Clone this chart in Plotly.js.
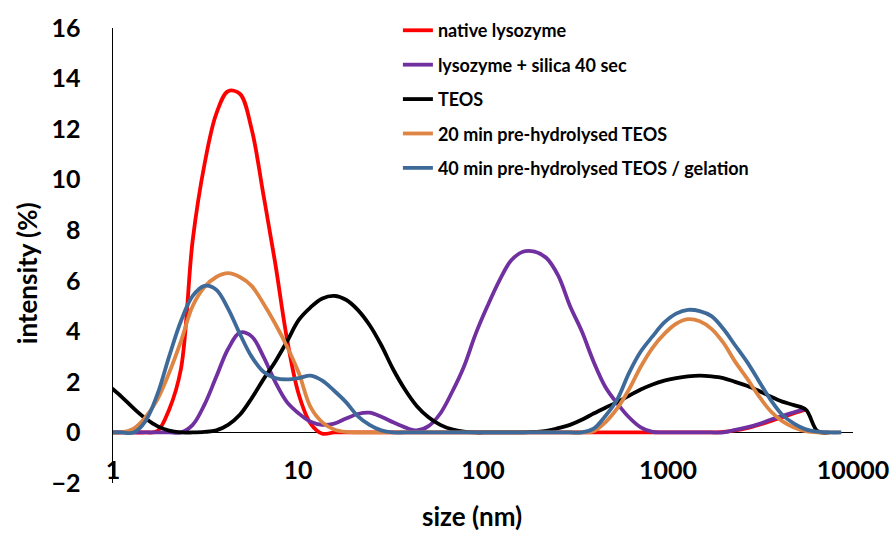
<!DOCTYPE html>
<html>
<head>
<meta charset="utf-8">
<script src="https://cdn.plot.ly/plotly-3.0.1.min.js"></script>
<style>html,body{margin:0;padding:0;background:#fff;}#chart{width:894px;height:534px;}</style>
</head>
<body>
<div id="chart"></div>
<script>
// Size bins (nm)
var sizes = [0.9649, 1.117, 1.294, 1.499, 1.736, 2.010, 2.328, 2.696, 3.122, 3.615, 4.187, 4.849, 5.615, 6.503, 7.531, 8.721,
  10.10, 11.70, 13.54, 15.69, 18.17, 21.04, 24.36, 28.21, 32.67, 37.84, 43.82, 50.75, 58.77, 68.06, 78.82, 91.28,
  105.7, 122.4, 141.8, 164.2, 190.1, 220.2, 255.0, 295.3, 342.0, 396.1, 458.7, 531.2, 615.1, 712.4, 825.0, 955.4,
  1106, 1281, 1484, 1718, 1990, 2305, 2669, 3091, 3580, 4145, 4801, 5560, 6439, 7456, 8635];

var seriesNames = ["native lysozyme", "lysozyme + silica 40 sec", "TEOS", "20 min pre-hydrolysed TEOS", "40 min pre-hydrolysed TEOS / gelation"];

// native lysozyme (ends at 5560 nm)
var nativeLysozyme = [0, 0, 0, 0, 0.05, 0.9, 2.5, 7.6, 10.6, 12.6, 13.5, 13.4, 12.0, 9.4, 6.7, 3.7,
  1.5, 0.35, -0.05, 0, 0, 0, 0, 0, 0, 0, 0, 0, 0, 0, 0, 0,
  0, 0, 0, 0, 0, 0, 0, 0, 0, 0, 0, 0, 0, 0, 0, 0,
  0, 0, 0, 0, 0.02, 0.08, 0.17, 0.3, 0.45, 0.6, 0.76, 0.9];

// lysozyme + silica 40 sec (ends at 5560 nm)
var lysozymeSilica = [0, 0, 0, 0, 0, 0, 0, 0.3, 1.1, 2.2, 3.3, 3.95, 3.8, 3.0, 2.0, 1.2,
  0.75, 0.42, 0.3, 0.35, 0.55, 0.73, 0.78, 0.62, 0.4, 0.2, 0.08, 0.25, 0.75, 1.6, 2.6, 3.9,
  5.0, 6.0, 6.8, 7.15, 7.15, 6.9, 6.2, 5.0, 4.0, 2.8, 1.8, 1.15, 0.6, 0.2, 0.02, 0,
  0, 0, 0, 0, 0, 0.1, 0.2, 0.33, 0.5, 0.65, 0.8, 0.93];

// TEOS (ends at 7456 nm)
var teos = [1.8, 1.4, 0.95, 0.55, 0.25, 0.07, 0, 0, 0.02, 0.08, 0.3, 0.7, 1.35, 2.1, 2.8, 3.6,
  4.45, 4.95, 5.3, 5.4, 5.25, 4.85, 4.25, 3.45, 2.5, 1.7, 1.05, 0.6, 0.3, 0.12, 0.03, 0,
  0, 0, 0, 0, 0.02, 0.06, 0.17, 0.3, 0.5, 0.75, 0.98, 1.2, 1.45, 1.7, 1.9, 2.05,
  2.15, 2.22, 2.25, 2.22, 2.15, 2.0, 1.85, 1.65, 1.42, 1.22, 1.08, 0.9, 0.05, 0];

// 20 min pre-hydrolysed TEOS
var teos20 = [0, 0, 0.15, 0.6, 1.3, 2.35, 3.6, 5.0, 5.75, 6.15, 6.3, 6.15, 5.8, 5.1, 4.3, 3.4,
  2.35, 1.0, 0.4, 0.12, 0.02, 0, 0, 0, 0, 0, 0, 0, 0, 0, 0, 0,
  0, 0, 0, 0, 0, 0, 0, 0, 0, 0.05, 0.4, 0.95, 1.7, 2.6, 3.35, 3.9,
  4.3, 4.48, 4.4, 4.1, 3.55, 2.8, 2.15, 1.45, 0.85, 0.45, 0.2, 0.05, 0, 0, 0];

// 40 min pre-hydrolysed TEOS / gelation
var teos40 = [0, 0, 0, 0.45, 1.5, 3.0, 4.4, 5.4, 5.8, 5.65, 4.9, 3.9, 3.0, 2.4, 2.15, 2.1,
  2.15, 2.25, 2.05, 1.65, 1.2, 0.65, 0.3, 0.08, 0, 0, 0, 0, 0, 0, 0, 0,
  0, 0, 0, 0, 0, 0, 0, 0, 0, 0.15, 0.65, 1.3, 2.35, 3.2, 3.8, 4.35,
  4.7, 4.85, 4.8, 4.6, 4.1, 3.45, 2.8, 2.05, 1.3, 0.7, 0.35, 0.12, 0.03, 0, 0];

var xTickVals = [1, 10, 100, 1000, 10000];
var xTickText = ["1", "10", "100", "1000", "10000"];
var yTickVals = [-2, 0, 2, 4, 6, 8, 10, 12, 14, 16];

var allSeries = [nativeLysozyme, lysozymeSilica, teos, teos20, teos40];
var colors = ["#FF0000", "#7030A0", "#000000", "#DE8544", "#3E6A9A"];

var traces = allSeries.map(function (vals, i) {
  return {
    x: sizes.slice(0, vals.length),
    y: vals,
    type: "scatter",
    mode: "lines",
    name: seriesNames[i],
    legendgroup: "g" + i,
    line: {color: colors[i], width: 3.8, shape: "spline", smoothing: 1}
  };
});

var FONT = "Lato, 'Open Sans', sans-serif";

var layout = {
  width: 894, height: 534,
  margin: {l: 113, r: 41, t: 21, b: 51},
  paper_bgcolor: "#ffffff", plot_bgcolor: "#ffffff",
  showlegend: true,
  legend: {
    x: 0.385, y: 1.035, xanchor: "left", yanchor: "top",
    font: {family: FONT, size: 18, color: "#000000", weight: "bold"},
    tracegroupgap: 8, bgcolor: "rgba(0,0,0,0)", itemwidth: 30
  },
  xaxis: {
    type: "log", range: [0, 4],
    tickvals: xTickVals, ticktext: xTickText,
    showgrid: false, zeroline: false, showline: false, ticks: "",
    anchor: "free", position: 0.067,
    tickfont: {family: FONT, size: 25, color: "#000000", weight: "bold"}
  },
  yaxis: {
    range: [-2, 16], tickvals: yTickVals,
    showgrid: false, showline: true, linecolor: "#000000", linewidth: 1.5,
    zeroline: true, zerolinecolor: "#000000", zerolinewidth: 1.5,
    ticks: "", ticklabelstandoff: 26,
    tickfont: {family: FONT, size: 25, color: "#000000", weight: "bold"}
  },
  annotations: [
    {text: "size (nm)", xref: "paper", yref: "paper", x: (472 - 113) / 740, y: (483 - 517) / 462,
     xanchor: "center", yanchor: "middle", showarrow: false,
     font: {family: FONT, size: 26, color: "#000000", weight: "bold"}},
    {text: "intensity (%)", xref: "paper", yref: "paper", x: (27 - 113) / 740, y: (483 - 270) / 462,
     xanchor: "center", yanchor: "middle", showarrow: false, textangle: -90,
     font: {family: FONT, size: 26, color: "#000000", weight: "bold"}}
  ]
};

Plotly.newPlot("chart", traces, layout, {displayModeBar: false, staticPlot: true});
</script>
</body>
</html>
